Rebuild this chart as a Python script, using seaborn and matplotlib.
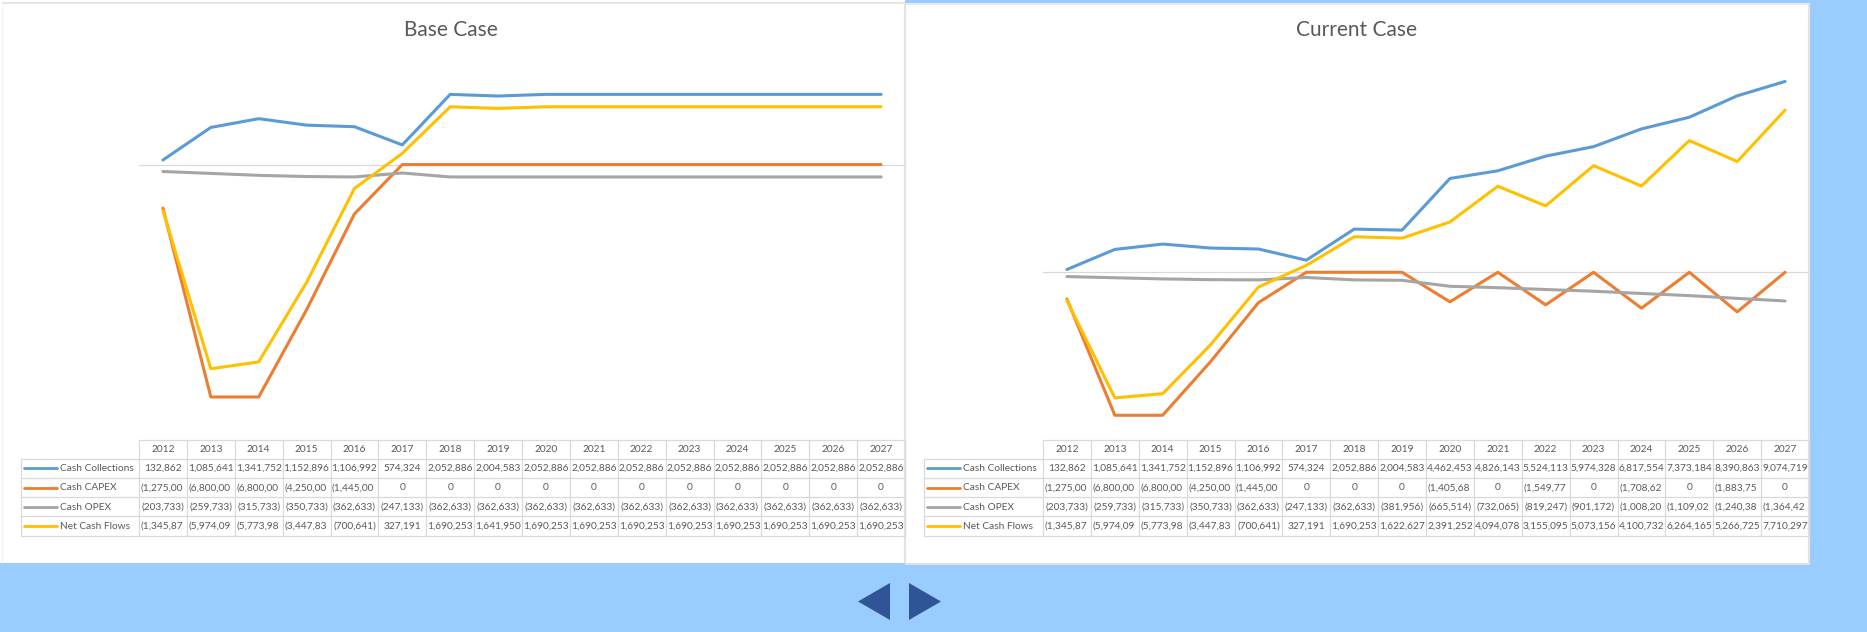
import matplotlib
matplotlib.use("Agg")
import matplotlib.pyplot as plt
from matplotlib.patches import Rectangle, Polygon
import numpy as np
import pandas as pd
import seaborn as sns

# ---- data -------------------------------------------------------------
years = [str(y) for y in range(2012, 2028)]
series_names = ["Cash Collections", "Cash CAPEX", "Cash OPEX", "Net Cash Flows"]
series_colors = ["#5B9BD5", "#ED7D31", "#A5A5A5", "#FFC000"]

base_collections = [132862, 1085641, 1341752, 1152896, 1106992, 574324, 2052886, 2004583,
                    2052886, 2052886, 2052886, 2052886, 2052886, 2052886, 2052886, 2052886]
base_capex = [-1275000, -6800000, -6800000, -4250000, -1445000, 0, 0, 0,
              0, 0, 0, 0, 0, 0, 0, 0]
base_opex = [-203733, -259733, -315733, -350733, -362633, -247133, -362633, -362633,
             -362633, -362633, -362633, -362633, -362633, -362633, -362633, -362633]
base_net = [-1345871, -5974092, -5773981, -3447837, -700641, 327191, 1690253, 1641950,
            1690253, 1690253, 1690253, 1690253, 1690253, 1690253, 1690253, 1690253]

curr_collections = [132862, 1085641, 1341752, 1152896, 1106992, 574324, 2052886, 2004583,
                    4462453, 4826143, 5524113, 5974328, 6817554, 7373184, 8390863, 9074719]
curr_capex = [-1275000, -6800000, -6800000, -4250000, -1445000, 0, 0, 0,
              -1405687, 0, -1549771, 0, -1708622, 0, -1883750, 0]
curr_opex = [-203733, -259733, -315733, -350733, -362633, -247133, -362633, -381956,
             -665514, -732065, -819247, -901172, -1008200, -1109020, -1240388, -1364422]
curr_net = [-1345871, -5974092, -5773981, -3447837, -700641, 327191, 1690253, 1622627,
            2391252, 4094078, 3155095, 5073156, 4100732, 6264165, 5266725, 7710297]

# ---- styling ----------------------------------------------------------
sns.set_style("white")
plt.rcParams["font.family"] = ["Lato", "DejaVu Sans"]

W, H = 1867, 632
TEXT = "#595959"
GRID = "#D9D9D9"
BLUE_BG = "#99CCFF"

fig = plt.figure(figsize=(W / 100, H / 100), dpi=100)
fig.patch.set_facecolor("white")

# pixel-space canvas for panels, tables and navigation arrows
bg = fig.add_axes([0, 0, 1, 1], zorder=0)
bg.set_xlim(0, W)
bg.set_ylim(H, 0)
bg.axis("off")


def px_axes(x0, y0, x1, y1, z=2):
    return fig.add_axes([x0 / W, 1 - y1 / H, (x1 - x0) / W, (y1 - y0) / H], zorder=z)


def hline(x0, x1, y, color=GRID, lw=0.9):
    bg.plot([x0, x1], [y, y], color=color, lw=lw, solid_capstyle="butt")


def vline(x, y0, y1, color=GRID, lw=0.9):
    bg.plot([x, x], [y0, y1], color=color, lw=lw, solid_capstyle="butt")


# page background and panel frames
bg.add_patch(Rectangle((0, 563), W, H - 563, color=BLUE_BG, lw=0))
bg.add_patch(Rectangle((1810, 0), W - 1810, H, color=BLUE_BG, lw=0))
bg.add_patch(Rectangle((905, 0), 905, 3, color=BLUE_BG, lw=0))
hline(2, 905, 3, color="#E6E6E6", lw=1.5)
vline(2, 3, 563, color="#F2F2F2", lw=0.8)
vline(905, 3, 563, color="#E3E3E3", lw=1.6)
hline(905, 1810, 4, color="#E6E6E6", lw=1.2)
vline(1809, 4, 564, color="#E3E3E3", lw=1.6)
hline(905, 1810, 564, color="#E6E6E6", lw=1.2)

# navigation arrows
arrow_c = "#2F5597"
bg.add_patch(Polygon([(858, 601.5), (890, 583), (890, 620)], closed=True, color=arrow_c, lw=0))
bg.add_patch(Polygon([(909, 583), (909, 620), (941, 601.5)], closed=True, color=arrow_c, lw=0))


def fmt(v):
    if v == 0:
        return "0"
    s = f"{abs(v):,}"
    return f"({s})" if v < 0 else s


COLW = 766 / 16
ROW_TOP, HDR_BOT, ROW_H = 440, 458.5, 19.3
FS = 7.3


def draw_table(legend_x, col_x0, data):
    x_end = col_x0 + 16 * COLW
    ys = [HDR_BOT + i * ROW_H for i in range(5)]
    hline(col_x0, x_end, ROW_TOP)
    for y in ys:
        hline(legend_x, x_end, y)
    vline(legend_x, ys[0], ys[-1])
    for i in range(17):
        vline(col_x0 + i * COLW, ROW_TOP, ys[-1])
    for i, yr in enumerate(years):
        bg.text(col_x0 + (i + 0.5) * COLW, (ROW_TOP + HDR_BOT) / 2 + 0.5, yr,
                ha="center", va="center", fontsize=FS, color=TEXT)
    for r, (name, color, vals) in enumerate(zip(series_names, series_colors, data)):
        yc = ys[r] + ROW_H / 2 + 0.3
        bg.plot([legend_x + 3, legend_x + 36], [yc, yc], color=color, lw=2.0,
                solid_capstyle="round")
        bg.text(legend_x + 39, yc, name, ha="left", va="center", fontsize=FS, color=TEXT)
        for i, v in enumerate(vals):
            s = fmt(v)
            cx = col_x0 + i * COLW
            if len(s) > 9:
                bg.text(cx + 1.5, yc, s[:9], ha="left", va="center", fontsize=FS, color=TEXT)
            else:
                bg.text(cx + COLW / 2, yc, s, ha="center", va="center", fontsize=FS, color=TEXT)


def draw_chart(x0, x1, y0, y1, ylim, data, title, title_x):
    ax = px_axes(x0, y0, x1, y1)
    ax.set_facecolor("none")
    df = pd.DataFrame({
        "idx": np.tile(np.arange(16), 4),
        "value": np.concatenate(data),
        "series": np.repeat(series_names, 16),
    })
    ax.axhline(0, color=GRID, lw=0.9, zorder=0)
    sns.lineplot(data=df, x="idx", y="value", hue="series", hue_order=series_names,
                 palette=series_colors, linewidth=2.2, legend=False, ax=ax, sort=False)
    for ln in ax.get_lines():
        ln.set_solid_capstyle("round")
        ln.set_solid_joinstyle("round")
    ax.set_xlim(-0.5, 15.5)
    ax.set_ylim(*ylim)
    ax.axis("off")
    bg.text(title_x, 30, title, ha="center", va="center", fontsize=15,
            fontweight="normal", color=TEXT)


base = [base_collections, base_capex, base_opex, base_net]
curr = [curr_collections, curr_capex, curr_opex, curr_net]

draw_chart(139, 905, 62, 438, (-8e6, 3e6), base, "Base Case", 451)
draw_chart(1043, 1809, 62, 440.5, (-8e6, 10e6), curr, "Current Case", 1357)
draw_table(21, 139, base)
draw_table(924, 1043, curr)

fig.savefig("out.png", dpi=100, facecolor=fig.get_facecolor())
